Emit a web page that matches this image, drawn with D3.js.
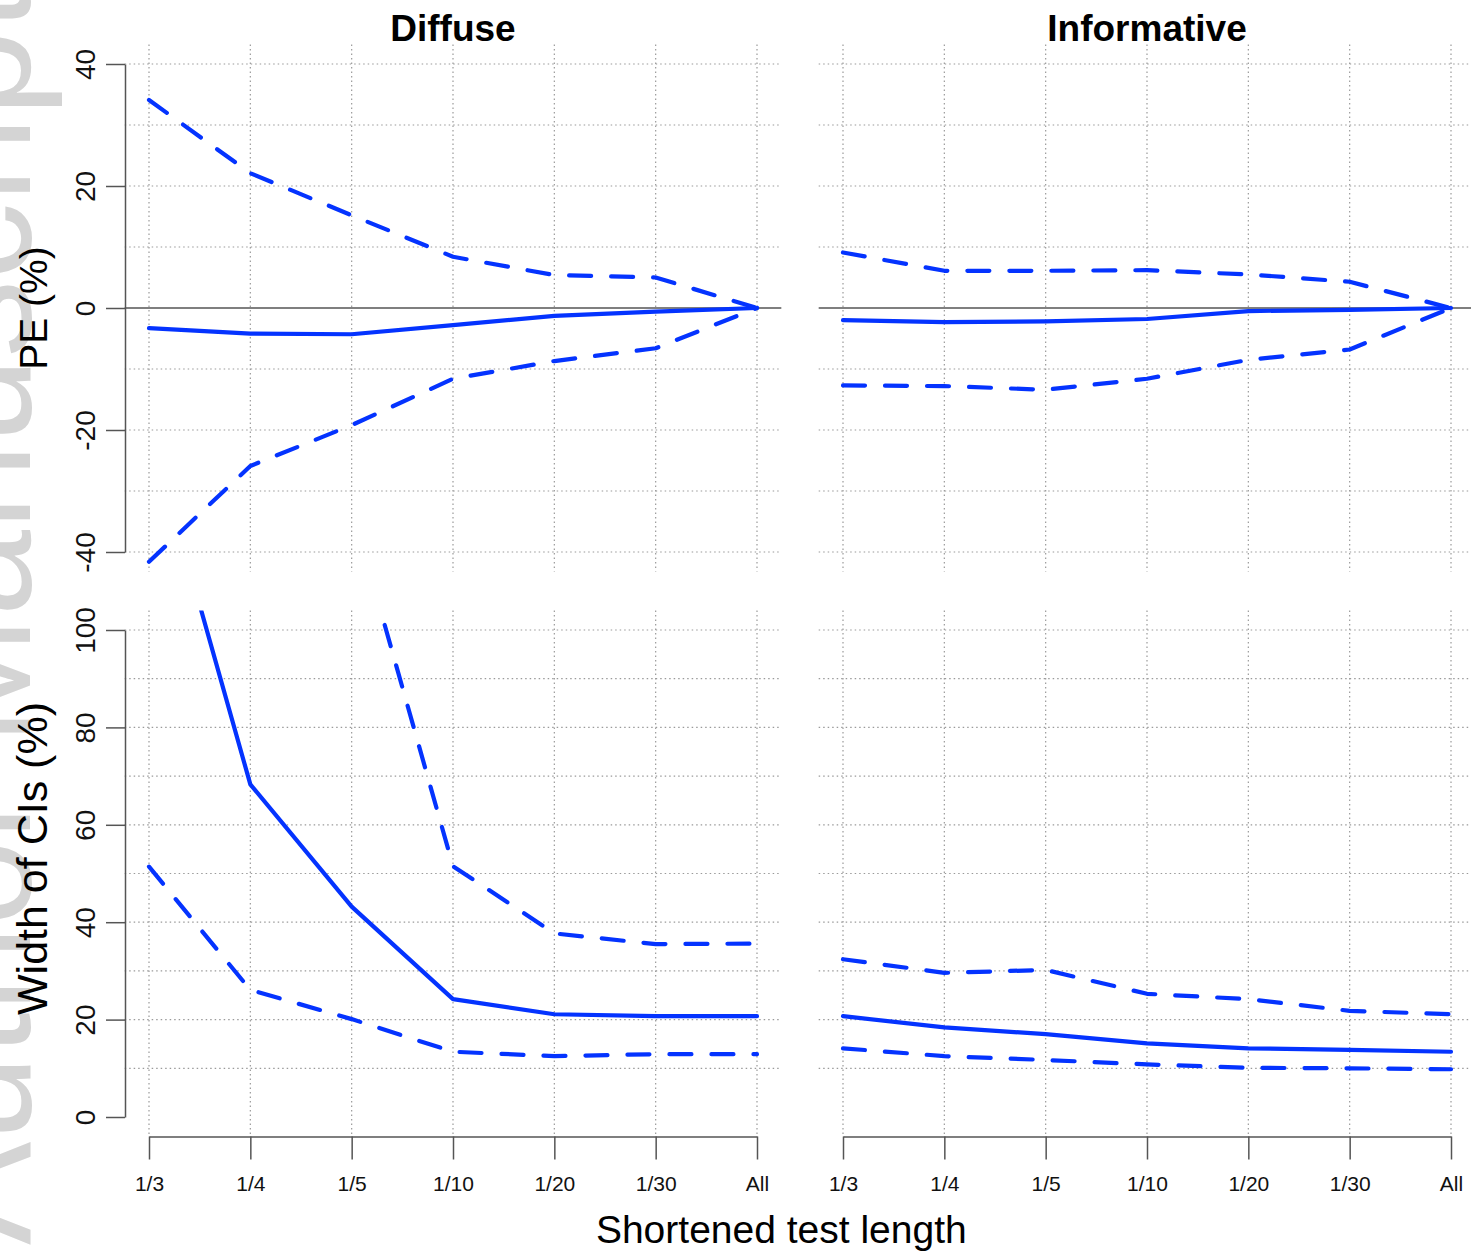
<!DOCTYPE html>
<html>
<head>
<meta charset="utf-8">
<script src="https://cdn.jsdelivr.net/npm/d3@7"></script>
<style>
  body { margin: 0; background: #fff; }
  svg { display: block; font-family: "Liberation Sans", Arial, Helvetica, sans-serif; }
</style>
</head>
<body>
<svg id="chart"></svg>
<script>
/* data */
var lengths = ["1/3", "1/4", "1/5", "1/10", "1/20", "1/30", "All"];

// PE (%), diffuse prior
var peDiffuseMean  = [-3.3, -4.2, -4.3, -2.8, -1.3, -0.6, 0];
var peDiffuseUpper = [34.1, 22.1, 15.2, 8.4, 5.4, 5.0, 0];
var peDiffuseLower = [-41.6, -25.9, -19.2, -11.6, -8.7, -6.6, 0];

// PE (%), informative prior
var peInfoMean  = [-2.0, -2.3, -2.2, -1.8, -0.5, -0.3, 0];
var peInfoUpper = [9.1, 6.1, 6.1, 6.2, 5.5, 4.3, 0];
var peInfoLower = [-12.7, -12.8, -13.4, -11.6, -8.5, -6.8, 0];

// width of CIs (%), diffuse prior (first points run off the top)
var wDiffuseMean  = [142, 68.3, 43.2, 24.2, 21.1, 20.7, 20.7];
var wDiffuseUpper = [230, 170, 125, 51.5, 37.7, 35.5, 35.6];
var wDiffuseLower = [51.4, 26.1, 20.1, 13.4, 12.5, 12.9, 12.9];

// width of CIs (%), informative prior
var wInfoMean  = [20.7, 18.4, 17.0, 15.1, 14.1, 13.8, 13.4];
var wInfoUpper = [32.4, 29.6, 30.2, 25.3, 24.2, 21.8, 21.1];
var wInfoLower = [14.1, 12.5, 11.7, 10.8, 10.1, 10.0, 9.8];

var peTicks = [-40, -20, 0, 20, 40];
var peGrid = [-40, -30, -20, -10, 10, 20, 30, 40];
var wTicks = [0, 20, 40, 60, 80, 100];
var wGrid = [10, 20, 30, 40, 50, 60, 70, 80, 90, 100];

/* layout */
let W = 1471, H = 1258;
let blue = "#0433ff";
let axisCol = "#555";
let dash = "22,20";

let svg = d3.select("#chart").attr("width", W).attr("height", H);

let xLeft = d3.scalePoint().domain(lengths).range([149, 757]);
let xRight = d3.scalePoint().domain(lengths).range([843, 1451]);
let yTop = d3.scaleLinear().domain([-40, 40]).range([552, 64]);
let yBot = d3.scaleLinear().domain([0, 100]).range([1117, 630]);

// R style plot region: 4% beyond the data range
function region(x, y){
    let xr = x.range(), yr = y.range();
    let dx = (xr[1] - xr[0]) * 0.04, dy = (yr[0] - yr[1]) * 0.04;
    return {x0: xr[0] - dx, x1: xr[1] + dx, y0: yr[1] - dy, y1: yr[0] + dy};
}

/* watermark, running off the left edge as in the scan */
svg.append("text")
   .attr("transform", "translate(30, 1245) rotate(-90)")
   .style("font-size", "155px")
   .style("fill", "#d4d4d4")
   .text("Author Manuscript");

let clipId = 0;

function drawPanel(x, y, gridVals, series, zeroLine){
    let r = region(x, y);
    let g = svg.append("g");

    // dotted grid
    g.selectAll(".hgrid")
     .data(gridVals)
     .join("line")
     .attr("x1", r.x0).attr("x2", r.x1)
     .attr("y1", d => y(d)).attr("y2", d => y(d))
     .attr("stroke", "#9a9a9a")
     .attr("stroke-width", 1.2)
     .attr("stroke-dasharray", "1.5,3");

    g.selectAll(".vgrid")
     .data(lengths)
     .join("line")
     .attr("x1", d => x(d)).attr("x2", d => x(d))
     .attr("y1", r.y0).attr("y2", r.y1)
     .attr("stroke", "#9a9a9a")
     .attr("stroke-width", 1.2)
     .attr("stroke-dasharray", "1.5,3");

    if (zeroLine){
        g.append("line")
         .attr("x1", r.x0).attr("x2", r.x1)
         .attr("y1", y(0)).attr("y2", y(0))
         .attr("stroke", axisCol)
         .attr("stroke-width", 1.5);
    }

    clipId += 1;
    svg.append("clipPath")
       .attr("id", "clip" + clipId)
       .append("rect")
       .attr("x", r.x0).attr("y", r.y0)
       .attr("width", r.x1 - r.x0).attr("height", r.y1 - r.y0);

    let line = d3.line()
                 .x((d, i) => x(lengths[i]))
                 .y(d => y(d));

    series.forEach(function(s){
        g.append("path")
         .datum(s.values)
         .attr("clip-path", "url(#clip" + clipId + ")")
         .attr("d", line)
         .attr("fill", "none")
         .attr("stroke", blue)
         .attr("stroke-width", 4.2)
         .attr("stroke-linecap", "round")
         .attr("stroke-linejoin", "round")
         .attr("stroke-dasharray", s.dashed ? dash : null);
    });
}

drawPanel(xLeft, yTop, peGrid, [
    {values: peDiffuseUpper, dashed: true},
    {values: peDiffuseLower, dashed: true},
    {values: peDiffuseMean, dashed: false}
], true);

drawPanel(xRight, yTop, peGrid, [
    {values: peInfoUpper, dashed: true},
    {values: peInfoLower, dashed: true},
    {values: peInfoMean, dashed: false}
], true);

drawPanel(xLeft, yBot, wGrid, [
    {values: wDiffuseUpper, dashed: true},
    {values: wDiffuseLower, dashed: true},
    {values: wDiffuseMean, dashed: false}
], false);

drawPanel(xRight, yBot, wGrid, [
    {values: wInfoUpper, dashed: true},
    {values: wInfoLower, dashed: true},
    {values: wInfoMean, dashed: false}
], false);

/* axes */
function yAxis(y, ticks){
    let ax = svg.append("g")
                .attr("transform", "translate(125, 0)")
                .call(d3.axisLeft(y).tickValues(ticks).tickFormat(d => String(d))
                        .tickSize(19).tickSizeOuter(0));
    ax.select(".domain").attr("stroke", axisCol).attr("stroke-width", 1.5);
    ax.selectAll(".tick line").attr("stroke", axisCol).attr("stroke-width", 1.5);
    ax.selectAll(".tick text")
      .attr("x", null).attr("dy", null)
      .attr("transform", "translate(-30, 0) rotate(-90)")
      .attr("text-anchor", "middle")
      .style("font-size", "28px")
      .style("font-family", "'Liberation Sans', Arial, sans-serif")
      .attr("fill", "#111");
}

function xAxis(x){
    let ax = svg.append("g")
                .attr("transform", `translate(0, ${yBot.range()[0] + 19.5})`)
                .call(d3.axisBottom(x).tickSize(23).tickSizeOuter(0));
    ax.select(".domain").attr("stroke", axisCol).attr("stroke-width", 1.5);
    ax.selectAll(".tick line").attr("stroke", axisCol).attr("stroke-width", 1.5);
    ax.selectAll(".tick text")
      .attr("y", 54).attr("dy", null)
      .style("font-size", "21px")
      .style("font-family", "'Liberation Sans', Arial, sans-serif")
      .attr("fill", "#111");
}

yAxis(yTop, peTicks);
yAxis(yBot, wTicks);
xAxis(xLeft);
xAxis(xRight);

/* titles */
let rl = region(xLeft, yTop), rr = region(xRight, yTop), rb = region(xLeft, yBot);

svg.append("text")
   .attr("x", (rl.x0 + rl.x1) / 2).attr("y", 41)
   .attr("text-anchor", "middle")
   .style("font-size", "37px").style("font-weight", "bold")
   .text("Diffuse");

svg.append("text")
   .attr("x", (rr.x0 + rr.x1) / 2).attr("y", 41)
   .attr("text-anchor", "middle")
   .style("font-size", "37px").style("font-weight", "bold")
   .text("Informative");

svg.append("text")
   .attr("transform", `translate(47, ${(rl.y0 + rl.y1) / 2}) rotate(-90)`)
   .attr("text-anchor", "middle")
   .style("font-size", "39px")
   .text("PE (%)");

svg.append("text")
   .attr("transform", `translate(47, ${(rb.y0 + rb.y1) / 2 - 15}) rotate(-90)`)
   .attr("text-anchor", "middle")
   .style("font-size", "43px")
   .text("Width of CIs (%)");

svg.append("text")
   .attr("x", rl.x1).attr("y", 1243)
   .attr("text-anchor", "middle")
   .style("font-size", "39px")
   .text("Shortened test length");
</script>
</body>
</html>
